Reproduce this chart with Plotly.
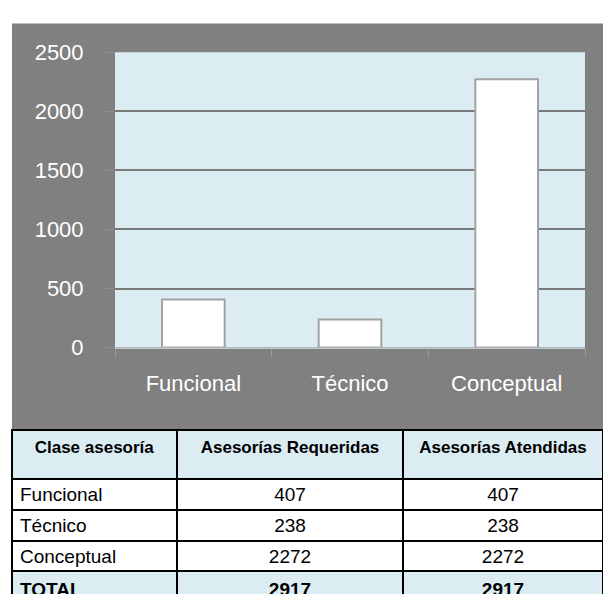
import plotly.graph_objects as go

categories = ["Funcional", "Técnico", "Conceptual"]
requeridas = [407, 238, 2272]
atendidas = [407, 238, 2272]
total_label = "TOTAL"
total_requeridas = 2917
total_atendidas = 2917
header_labels = ["Clase asesoría", "Asesorías Requeridas", "Asesorías Atendidas"]
y_ticks = [0, 500, 1000, 1500, 2000, 2500]

W, H = 603, 608
FONT = "Liberation Sans, Arial, sans-serif"
LIGHT = "#DBEDF3"
GRAY = "#808080"

def px_x(p):
    return p / W

def px_y(p):
    return 1 - p / H

fig = go.Figure()

fig.add_trace(go.Bar(
    x=categories, y=requeridas,
    width=0.4,
    marker=dict(color="#FFFFFF", line=dict(color="#A2A2A2", width=2)),
    showlegend=False, hoverinfo="x+y",
))

col1 = [f"{c}" for c in categories] + [f"<b>{total_label}</b>"]
col2 = [str(v) for v in requeridas] + [f"<b>{total_requeridas}</b>"]
col3 = [str(v) for v in atendidas] + [f"<b>{total_atendidas}</b>"]
fill_col = ["#FFFFFF"] * len(categories) + [LIGHT]

fig.add_trace(go.Table(
    domain=dict(x=[px_x(12), 1.0], y=[0.0, px_y(436)]),
    columnwidth=[165, 226, 200],
    header=dict(
        values=[f"<b>{h}</b>" for h in header_labels],
        fill_color=LIGHT,
        line=dict(color="#000000", width=2),
        align="center",
        font=dict(family=FONT, size=17, color="#000000"),
        height=49,
    ),
    cells=dict(
        values=[col1, col2, col3],
        fill_color=[fill_col, fill_col, fill_col],
        line=dict(color="#000000", width=2),
        align=["left", "center", "center"],
        font=dict(family=FONT, size=19, color="#000000"),
        height=30.75,
    ),
))

fig.update_layout(
    width=W, height=H,
    margin=dict(l=0, r=0, t=0, b=0),
    paper_bgcolor="#FFFFFF",
    plot_bgcolor=LIGHT,
    bargap=0.6,
    shapes=[
        dict(type="rect", xref="paper", yref="paper",
             x0=px_x(12), x1=1.0, y0=px_y(436), y1=px_y(12),
             fillcolor=GRAY, line=dict(width=0), layer="below"),
        dict(type="rect", xref="x domain", yref="y domain",
             x0=0, x1=1, y0=0, y1=1,
             fillcolor=LIGHT, line=dict(width=0), layer="below"),
    ],
    xaxis=dict(
        domain=[px_x(115), px_x(585)],
        tickfont=dict(family=FONT, size=22, color="#FFFFFF"),
        showgrid=False, zeroline=False,
        showline=True, linecolor="#BFC8CC", linewidth=1,
        ticks="outside", tickson="boundaries", ticklen=8, tickcolor="#9A9A9A", tickwidth=1,
        ticklabelstandoff=16,
    ),
    yaxis=dict(
        domain=[px_y(350), px_y(42)],
        range=[0, 2500],
        tickvals=y_ticks,
        tickfont=dict(family=FONT, size=22, color="#FFFFFF"),
        showgrid=True, gridcolor="#7A7A7A", gridwidth=2,
        zeroline=False, showline=False,
        ticks="outside", ticklen=8, tickcolor="#8E8E8E", tickwidth=1,
        ticklabelstandoff=18,
    ),
)

fig.write_html(
    "out.html",
    config={"displayModeBar": False},
    post_script="document.body.style.margin='0';document.body.style.overflow='hidden';",
)
